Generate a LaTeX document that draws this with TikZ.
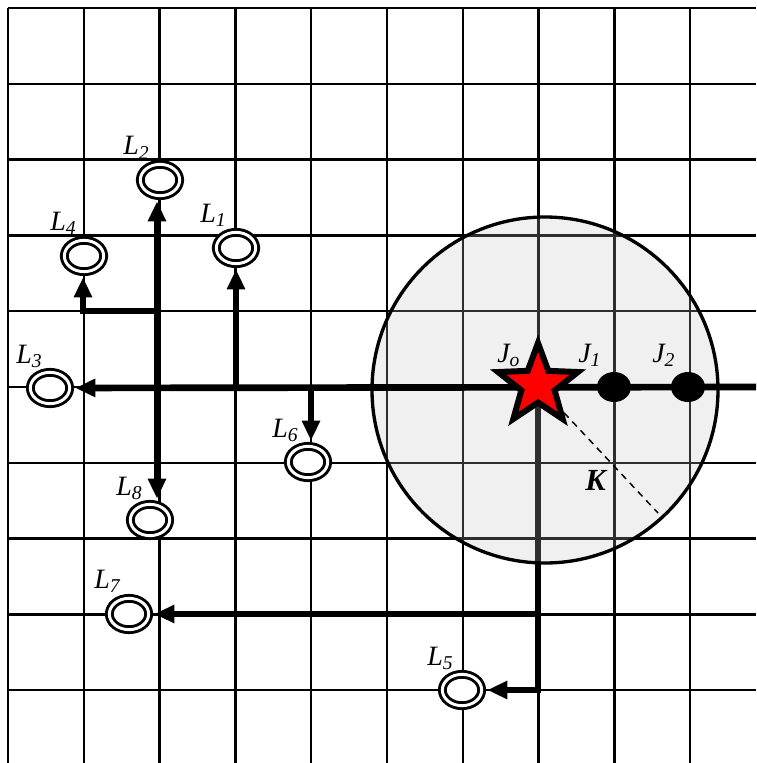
\documentclass[tikz,border=0pt]{standalone}
\usepackage{fontspec}
\setmainfont{Liberation Serif}
\usetikzlibrary{arrows.meta,shapes.geometric}
\definecolor{circfill}{HTML}{F0F0F0}
\definecolor{ingrid}{HTML}{2E2E2E}
\begin{document}
\begin{tikzpicture}[x=0.75pt,y=-0.75pt,
  gridline/.style={line width=1.9pt},
  feed/.style={line width=5pt, -{Triangle[length=15pt,width=13pt]}, shorten >=1pt},
  load/.style={ellipse, draw=black, fill=white, double=white, line width=2.2pt, double distance=2.2pt,
    minimum width=29.5pt, minimum height=23.5pt, inner sep=0pt, outer sep=3.3pt},
  jdot/.style={ellipse, fill=black, minimum width=25.5pt, minimum height=22.5pt, inner sep=0pt},
  lab/.style={font=\fontsize{21}{24}\selectfont\itshape, inner sep=0pt, anchor=base west},
  radius line/.style={dashed, line width=1.1pt, dash pattern=on 5pt off 4pt},
]
\useasboundingbox (0,0) rectangle (756,763);
% grid
\foreach \i in {0,...,9} {
  \draw[gridline] ({8+75.8*\i},8) -- ({8+75.8*\i},763);
  \draw[gridline] (8,{8+75.8*\i}) -- (756,{8+75.8*\i});
}
% loads
\node[load] (L1) at (236,248) {};
\node[load] (L2) at (160,180) {};
\node[load] (L3) at (50,388) {};
\node[load] (L4) at (84,256) {};
\node[load] (L5) at (462,690) {};
\node[load] (L6) at (308,462) {};
\node[load] (L7) at (129,614) {};
\node[load] (L8) at (150,520) {};
% coordinates
\coordinate (E) at (756,387);
\coordinate (T) at (157,387);
\coordinate (T4) at (157,311);
\coordinate (C4) at (83,311);
\coordinate (B1) at (236,387);
\coordinate (B6) at (311,387);
\coordinate (S) at (538,387);
\coordinate (S7) at (538,614);
\coordinate (S5) at (538,690);
\coordinate (Kend) at (658,513);
% feeders from the star (drawn below circle)
\draw[feed] (S) -- (S5) -- (L5);
\draw[feed] (S7) -- (L7);
% circle
\fill[circfill] (545,390) circle[radius=173];
\begin{scope}
  \clip (545,390) circle[radius=173];
  \foreach \i in {0,...,9} {
    \draw[gridline, ingrid] ({8+75.8*\i},8) -- ({8+75.8*\i},763);
    \draw[gridline, ingrid] (8,{8+75.8*\i}) -- (756,{8+75.8*\i});
  }
  \draw[line width=4.5pt, ingrid] (S) -- (S5);
\end{scope}
\draw[line width=2.5pt] (545,390) circle[radius=173];
% main line and branches
\draw[feed] (E) -- (L3);
\draw[feed] (T) -- (T |- L2.south);
\draw[feed] (T) -- (T |- L8.north);
\draw[feed] (T4) -- (C4) -- (C4 |- L4.south);
\draw[feed] (B1) -- (L1);
\draw[feed] (B6) -- (B6 |- L6.north);
% star and nodes
\node[star, star points=5, star point ratio=2.4, minimum size=63pt, inner sep=0pt,
  fill=red, draw=black, line width=4.5pt] (J0) at (538,385) {};
\draw[radius line] (J0) -- (Kend);
\node[jdot] (J1) at (614,387) {};
\node[jdot] (J2) at (688,387) {};
% labels
\node[lab] (tL2) at (123,155) {L\textsubscript{2}};
\node[lab] (tL4) at (50,230) {L\textsubscript{4}};
\node[lab] (tL1) at (200,222) {L\textsubscript{1}};
\node[lab] (tL3) at (16,363) {L\textsubscript{3}};
\node[lab] (tL6) at (272,437) {L\textsubscript{6}};
\node[lab] (tL8) at (116,495) {L\textsubscript{8}};
\node[lab] (tL7) at (94,588) {L\textsubscript{7}};
\node[lab] (tL5) at (427,665) {L\textsubscript{5}};
\node[lab] (tJ0) at (497,362) {J\textsubscript{o}};
\node[lab] (tJ1) at (578,362) {J\textsubscript{1}};
\node[lab] (tJ2) at (652,362) {J\textsubscript{2}};
\node[lab, font=\fontsize{23}{26}\selectfont\bfseries\itshape] (tK) at (585,490) {K};
\end{tikzpicture}
\end{document}
